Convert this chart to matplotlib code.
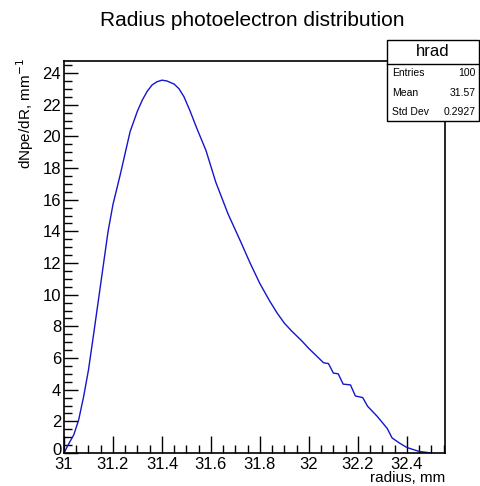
import matplotlib
matplotlib.use('Agg')
import matplotlib.pyplot as plt
from matplotlib.patches import Rectangle
from matplotlib.lines import Line2D
from matplotlib.transforms import ScaledTranslation
import numpy as np

plt.rcParams['font.family'] = ['Liberation Sans', 'DejaVu Sans']

# histogram "hrad"
radius = [31.00, 31.02, 31.04, 31.06, 31.08, 31.10, 31.12, 31.14, 31.16, 31.18,
          31.20, 31.23, 31.27, 31.30, 31.32, 31.34, 31.36, 31.38, 31.40, 31.42,
          31.45, 31.47, 31.49, 31.515, 31.54, 31.58, 31.62, 31.67, 31.72, 31.76,
          31.80, 31.84, 31.87, 31.90, 31.93, 31.97, 32.00, 32.02, 32.06, 32.08,
          32.10, 32.12, 32.14, 32.17, 32.19, 32.22, 32.24, 32.28, 32.32, 32.34,
          32.37, 32.40, 32.45, 32.50]
dnpe = [0.0, 0.6, 1.15, 2.1, 3.55, 5.25, 7.4, 9.6, 11.8, 14.0,
        15.7, 17.6, 20.3, 21.6, 22.3, 22.85, 23.25, 23.45, 23.55, 23.5,
        23.3, 23.0, 22.5, 21.6, 20.6, 19.1, 17.1, 15.1, 13.4, 12.0,
        10.7, 9.6, 8.85, 8.2, 7.7, 7.1, 6.6, 6.3, 5.7, 5.65,
        5.05, 5.0, 4.35, 4.3, 3.6, 3.5, 2.95, 2.3, 1.55, 0.95,
        0.63, 0.35, 0.1, 0.0]
stats_names = ['Entries', 'Mean', 'Std Dev']
stats_values = ['100', '31.57', '0.2927']

W, H = 480, 486
fig = plt.figure(figsize=(W / 100, H / 100), dpi=100)
ax = fig.add_axes([64 / W, 1 - 453 / H, (445 - 64) / W, (453 - 61) / H])

ax.plot(radius, dnpe, color='#1515cc', lw=1.0)
ax.set_xlim(31.0, 32.556)
ax.set_ylim(0, 24.76)

ax.set_xticks(np.arange(31.0, 32.41, 0.2))
ax.set_xticklabels(['31', '31.2', '31.4', '31.6', '31.8', '32', '32.2', '32.4'])
ax.set_xticks(np.arange(31.0, 32.56, 0.05), minor=True)
ax.set_yticks(np.arange(0, 25, 2))
ax.set_yticks(np.arange(0, 24.8, 0.5), minor=True)
ax.tick_params(direction='in', labelsize=12, length=12, width=1, pad=3)
ax.tick_params(axis='y', length=10, pad=2)
ax.tick_params(which='minor', direction='in', length=6, width=1)
for s in ax.spines.values():
    s.set_linewidth(1.2)

# lift the "0" label a little so it does not run into "31"
lab0 = ax.get_yticklabels()[0]
lab0.set_transform(lab0.get_transform() + ScaledTranslation(0, 4 / 100, fig.dpi_scale_trans))

fig.text(252 / W, 1 - 20 / H, 'Radius photoelectron distribution',
         ha='center', va='center', fontsize=15)
fig.text(445 / W, 1 - 471 / H, 'radius, mm', ha='right', va='top', fontsize=11)
fig.text(25 / W, 1 - 58 / H, 'dNpe/dR, mm$^{-1}$', rotation=90,
         ha='center', va='top', fontsize=11)

# stats box
x0, x1, y0, y1, yh = 387, 479, 40, 121, 64
fig.patches.append(Rectangle((x0 / W, 1 - y1 / H), (x1 - x0) / W, (y1 - y0) / H,
                             transform=fig.transFigure, facecolor='white',
                             edgecolor='black', lw=1.0, zorder=5))
fig.lines.append(Line2D([x0 / W, x1 / W], [1 - yh / H, 1 - yh / H],
                        transform=fig.transFigure, color='black', lw=1.0, zorder=6))
fig.text((x0 + x1) / 2 / W, 1 - 52 / H, 'hrad', ha='center', va='center',
         fontsize=12, zorder=7)
for i, (n, v) in enumerate(zip(stats_names, stats_values)):
    yy = 1 - (73 + i * 19.5) / H
    fig.text((x0 + 5) / W, yy, n, ha='left', va='center', fontsize=7.5, zorder=7)
    fig.text((x1 - 3) / W, yy, v, ha='right', va='center', fontsize=7.5, zorder=7)

fig.savefig('out.png', dpi=100)
